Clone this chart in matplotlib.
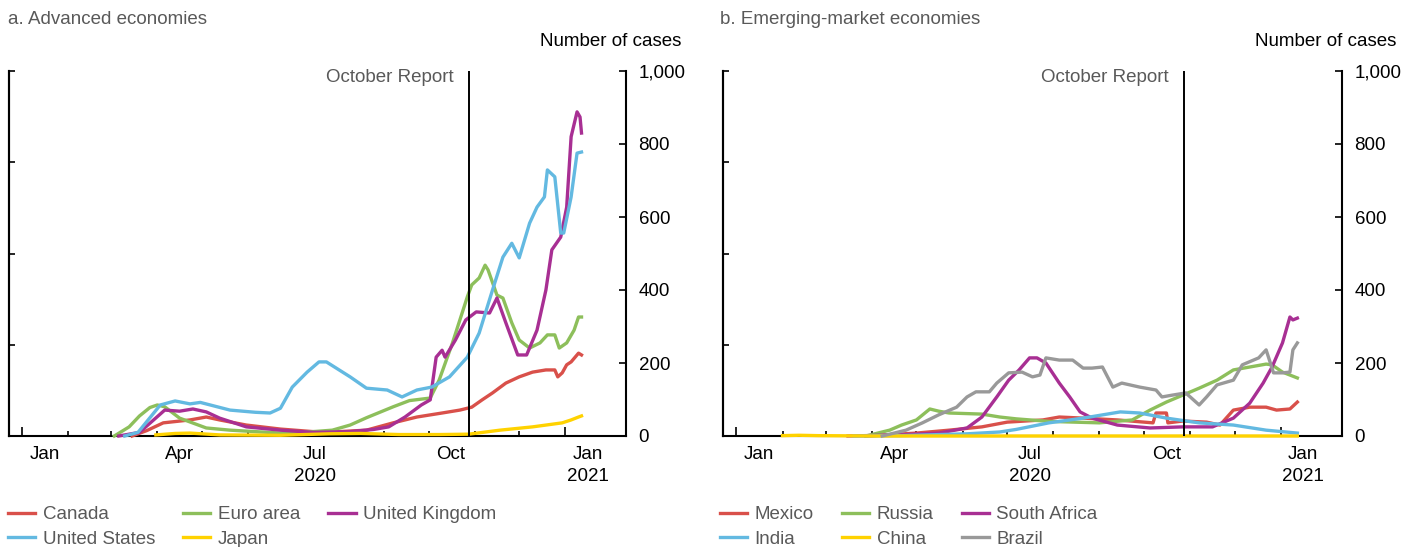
import matplotlib
matplotlib.use("Agg")
import matplotlib.pyplot as plt
import matplotlib.dates as mdates
import numpy as np

plt.rcParams['font.family'] = ['Liberation Sans', 'DejaVu Sans']

# 7-day average of new cases per million
canada = [("2020-03-15", 0), ("2020-03-25", 15), ("2020-04-05", 36), ("2020-04-23", 44),
          ("2020-05-04", 52), ("2020-05-13", 44), ("2020-05-31", 30), ("2020-06-23", 19),
          ("2020-07-15", 12), ("2020-07-28", 11), ("2020-08-20", 16), ("2020-09-07", 36),
          ("2020-09-23", 52), ("2020-10-10", 63), ("2020-10-22", 71), ("2020-10-30", 79),
          ("2020-11-06", 99), ("2020-11-13", 118), ("2020-11-22", 145), ("2020-12-01", 162),
          ("2020-12-10", 175), ("2020-12-19", 181), ("2020-12-25", 181), ("2020-12-27", 162),
          ("2020-12-30", 173), ("2021-01-02", 195), ("2021-01-05", 203), ("2021-01-10", 227),
          ("2021-01-12", 222)]
euro_area = [("2020-03-03", 0), ("2020-03-13", 25), ("2020-03-20", 55), ("2020-03-27", 78),
             ("2020-04-01", 85), ("2020-04-06", 80), ("2020-04-16", 49), ("2020-05-04", 22),
             ("2020-05-20", 16), ("2020-06-23", 8), ("2020-07-15", 12), ("2020-07-28", 16),
             ("2020-08-09", 30), ("2020-08-20", 50), ("2020-09-07", 80), ("2020-09-18", 97),
             ("2020-10-02", 104), ("2020-10-08", 153), ("2020-10-17", 255), ("2020-10-27", 381),
             ("2020-10-30", 414), ("2020-11-04", 433), ("2020-11-08", 468), ("2020-11-10", 455),
             ("2020-11-16", 386), ("2020-11-20", 378), ("2020-11-26", 310), ("2020-12-01", 263),
             ("2020-12-08", 241), ("2020-12-15", 255), ("2020-12-20", 277), ("2020-12-25", 277),
             ("2020-12-28", 241), ("2021-01-02", 255), ("2021-01-07", 290), ("2021-01-10", 326),
             ("2021-01-12", 326)]
united_kingdom = [("2020-03-06", 0), ("2020-03-20", 10), ("2020-03-27", 35), ("2020-04-06", 71),
                  ("2020-04-16", 68), ("2020-04-25", 74), ("2020-05-04", 66), ("2020-05-13", 49),
                  ("2020-05-31", 25), ("2020-06-23", 16), ("2020-07-15", 10), ("2020-08-09", 12),
                  ("2020-08-25", 18), ("2020-09-04", 25), ("2020-09-15", 52), ("2020-09-26", 85),
                  ("2020-10-02", 99), ("2020-10-06", 216), ("2020-10-10", 235), ("2020-10-12", 216),
                  ("2020-10-19", 263), ("2020-10-26", 318), ("2020-11-02", 340), ("2020-11-11", 337),
                  ("2020-11-16", 378), ("2020-11-22", 310), ("2020-11-30", 222), ("2020-12-06", 222),
                  ("2020-12-13", 290), ("2020-12-19", 400), ("2020-12-23", 510), ("2020-12-29", 545),
                  ("2021-01-02", 627), ("2021-01-05", 820), ("2021-01-09", 888), ("2021-01-11", 874),
                  ("2021-01-12", 830)]
united_states = [("2020-03-10", 0), ("2020-03-19", 10), ("2020-03-27", 50), ("2020-04-03", 85),
                 ("2020-04-13", 96), ("2020-04-23", 88), ("2020-04-30", 92), ("2020-05-20", 71),
                 ("2020-06-06", 65), ("2020-06-16", 63), ("2020-06-23", 76), ("2020-07-01", 134),
                 ("2020-07-11", 175), ("2020-07-19", 203), ("2020-07-24", 203), ("2020-08-09", 162),
                 ("2020-08-20", 131), ("2020-09-03", 126), ("2020-09-13", 107), ("2020-09-23", 126),
                 ("2020-10-03", 134), ("2020-10-15", 162), ("2020-10-27", 216), ("2020-11-04", 282),
                 ("2020-11-13", 400), ("2020-11-20", 490), ("2020-11-26", 528), ("2020-12-01", 488),
                 ("2020-12-08", 583), ("2020-12-13", 627), ("2020-12-18", 655), ("2020-12-20", 729),
                 ("2020-12-25", 710), ("2020-12-29", 556), ("2020-12-31", 556), ("2021-01-05", 655),
                 ("2021-01-09", 775), ("2021-01-12", 778)]
japan = [("2020-03-31", 3), ("2020-04-13", 7), ("2020-04-23", 8), ("2020-05-13", 3),
         ("2020-06-23", 2), ("2020-07-26", 6), ("2020-08-16", 7), ("2020-09-11", 4),
         ("2020-10-08", 4), ("2020-10-28", 5), ("2020-11-18", 16), ("2020-12-10", 25),
         ("2020-12-30", 36), ("2021-01-05", 44), ("2021-01-10", 52), ("2021-01-12", 55)]

mexico = [("2020-03-28", 0), ("2020-05-01", 8), ("2020-05-23", 16), ("2020-06-14", 25),
          ("2020-07-01", 38), ("2020-07-25", 44), ("2020-08-05", 52), ("2020-08-21", 49),
          ("2020-09-13", 44), ("2020-10-07", 36), ("2020-10-09", 63), ("2020-10-16", 63),
          ("2020-10-17", 36), ("2020-10-27", 41), ("2020-11-12", 38), ("2020-11-21", 30),
          ("2020-11-30", 71), ("2020-12-11", 79), ("2020-12-22", 79), ("2020-12-29", 71),
          ("2021-01-07", 74), ("2021-01-12", 93)]
russia = [("2020-03-28", 0), ("2020-04-13", 16), ("2020-04-21", 30), ("2020-05-01", 44),
          ("2020-05-10", 74), ("2020-05-16", 68), ("2020-05-23", 63), ("2020-06-14", 60),
          ("2020-06-26", 52), ("2020-07-07", 47), ("2020-07-29", 40), ("2020-09-01", 36),
          ("2020-09-23", 44), ("2020-10-05", 71), ("2020-10-16", 93), ("2020-10-27", 112),
          ("2020-11-07", 131), ("2020-11-19", 153), ("2020-11-30", 181), ("2020-12-11", 189),
          ("2020-12-22", 197), ("2020-12-26", 195), ("2021-01-02", 175), ("2021-01-12", 159)]
south_africa = [("2020-03-16", 0), ("2020-04-20", 3), ("2020-05-16", 8), ("2020-06-04", 22),
                ("2020-06-14", 52), ("2020-06-24", 107), ("2020-07-02", 153), ("2020-07-09", 181),
                ("2020-07-16", 214), ("2020-07-21", 214), ("2020-07-27", 200), ("2020-08-05", 145),
                ("2020-08-12", 107), ("2020-08-19", 66), ("2020-08-27", 49), ("2020-09-13", 30),
                ("2020-10-05", 22), ("2020-10-27", 25), ("2020-11-16", 25), ("2020-11-30", 49),
                ("2020-12-11", 90), ("2020-12-20", 145), ("2020-12-26", 189), ("2021-01-02", 255),
                ("2021-01-07", 326), ("2021-01-09", 318), ("2021-01-12", 323)]
india = [("2020-03-20", 0), ("2020-04-20", 1), ("2020-06-04", 6), ("2020-06-26", 11),
         ("2020-07-07", 18), ("2020-07-29", 36), ("2020-08-21", 49), ("2020-09-15", 66),
         ("2020-09-28", 63), ("2020-10-16", 49), ("2020-11-07", 36), ("2020-11-30", 30),
         ("2020-12-22", 16), ("2021-01-12", 8)]
china = [("2020-02-01", 1), ("2020-02-12", 2), ("2020-02-25", 1), ("2020-04-01", 0),
         ("2020-08-01", 0), ("2021-01-12", 0)]
brazil = [("2020-04-08", 0), ("2020-04-24", 16), ("2020-05-05", 36), ("2020-05-16", 58),
          ("2020-05-28", 79), ("2020-06-04", 107), ("2020-06-10", 121), ("2020-06-19", 121),
          ("2020-06-24", 145), ("2020-07-02", 173), ("2020-07-11", 175), ("2020-07-18", 162),
          ("2020-07-23", 167), ("2020-07-27", 214), ("2020-08-05", 208), ("2020-08-14", 208),
          ("2020-08-21", 186), ("2020-08-27", 186), ("2020-09-03", 189), ("2020-09-10", 134),
          ("2020-09-16", 145), ("2020-09-28", 134), ("2020-10-09", 126), ("2020-10-13", 107),
          ("2020-10-20", 112), ("2020-10-29", 118), ("2020-11-07", 85), ("2020-11-12", 107),
          ("2020-11-19", 140), ("2020-11-30", 153), ("2020-12-06", 195), ("2020-12-17", 214),
          ("2020-12-22", 236), ("2020-12-27", 173), ("2021-01-02", 173), ("2021-01-07", 175),
          ("2021-01-09", 236), ("2021-01-12", 255)]

panel_a = [("Canada", canada, "#d9504a"), ("Euro area", euro_area, "#8dbf5b"),
           ("United Kingdom", united_kingdom, "#a82f93"), ("United States", united_states, "#63b9e1"),
           ("Japan", japan, "#ffd200")]
panel_b = [("Mexico", mexico, "#d9504a"), ("Russia", russia, "#8dbf5b"),
           ("South Africa", south_africa, "#a82f93"), ("India", india, "#63b9e1"),
           ("China", china, "#ffd200"), ("Brazil", brazil, "#999999")]

report_date = "2020-10-28"
GRAY = "#595959"
FS = 13.5
W, H = 1415, 547


def d2n(s):
    return mdates.date2num(np.datetime64(s))


def draw_panel(ax, series, order):
    lines = {}
    for name, pts, color in series:
        x = [d2n(p[0]) for p in pts]
        y = [p[1] for p in pts]
        ln, = ax.plot(x, y, color=color, lw=2.4, solid_joinstyle='round',
                      clip_on=False, zorder=3)
        lines[name] = ln

    ax.set_xlim(d2n("2019-12-23"), d2n("2021-02-11"))
    ax.set_ylim(0, 1000)

    ax.axvline(d2n(report_date), color='black', lw=1.4, zorder=5)
    ax.annotate("October Report", xy=(d2n(report_date), 983), xytext=(-11, 0),
                textcoords='offset points', ha='right', va='center',
                fontsize=FS, color=GRAY)

    ax.spines['top'].set_visible(False)
    for s in ['left', 'right', 'bottom']:
        ax.spines[s].set_linewidth(1.5)

    # month ticks (Jan taller)
    jans = [d2n("2020-01-01"), d2n("2021-01-01")]
    months = [d2n(f"2020-{m:02d}-01") for m in range(2, 13)]
    ax.set_xticks(jans)
    ax.set_xticks(months, minor=True)
    ax.tick_params(axis='x', which='major', direction='in', length=6.5, width=1.2,
                   labelbottom=False)
    ax.tick_params(axis='x', which='minor', direction='in', length=3.6, width=1.2)

    lab = ax.secondary_xaxis('bottom')
    lab.set_xticks([d2n("2020-01-16"), d2n("2020-04-16"), d2n("2020-07-16"),
                    d2n("2020-10-16"), d2n("2021-01-16")],
                   ["Jan", "Apr", "Jul\n2020", "Oct", "Jan\n2021"])
    lab.tick_params(length=0, pad=7.5, labelsize=FS)
    for t in lab.get_xticklabels():
        t.set_linespacing(1.35)
    lab.spines['bottom'].set_visible(False)

    # right axis with labels
    ax.yaxis.tick_right()
    ax.set_yticks(range(0, 1001, 200), ["0", "200", "400", "600", "800", "1,000"])
    ax.tick_params(axis='y', direction='in', length=5, width=1.2, pad=9, labelsize=FS)

    # left axis ticks, no labels
    left = ax.secondary_yaxis('left')
    left.set_yticks([0, 250, 500, 750, 1000])
    left.tick_params(direction='in', length=4.5, width=1.2, labelleft=False)
    left.spines['left'].set_linewidth(1.5)

    return [lines[n] for n in order]


fig = plt.figure(figsize=(W / 100, H / 100), dpi=100)
ax_a = fig.add_axes([9 / W, 1 - 436 / H, 617 / W, 365 / H])
ax_b = fig.add_axes([723 / W, 1 - 436 / H, 619 / W, 365 / H])

order_a = ["Canada", "United States", "Euro area", "Japan", "United Kingdom"]
order_b = ["Mexico", "India", "Russia", "China", "South Africa", "Brazil"]
h_a = draw_panel(ax_a, panel_a, order_a)
h_b = draw_panel(ax_b, panel_b, order_b)

fig.text(8 / W, 1 - 19 / H, "a. Advanced economies", ha='left', va='center',
         fontsize=FS, color=GRAY)
fig.text(720 / W, 1 - 19 / H, "b. Emerging-market economies", ha='left', va='center',
         fontsize=FS, color=GRAY)
fig.text(681 / W, 1 - 41 / H, "Number of cases", ha='right', va='center', fontsize=FS)
fig.text(1396 / W, 1 - 41 / H, "Number of cases", ha='right', va='center', fontsize=FS)

for handles, order, x0 in [(h_a, order_a, 8), (h_b, order_b, 720)]:
    leg = fig.legend(handles, order, loc='upper left', bbox_to_anchor=(x0 / W, 1 - 506 / H),
                     ncol=3, frameon=False, fontsize=FS, borderpad=0, borderaxespad=0,
                     handlelength=1.45, handletextpad=0.4, columnspacing=1.5,
                     labelspacing=0.4)
    for t in leg.get_texts():
        t.set_color(GRAY)

fig.savefig("out.png", dpi=100)
